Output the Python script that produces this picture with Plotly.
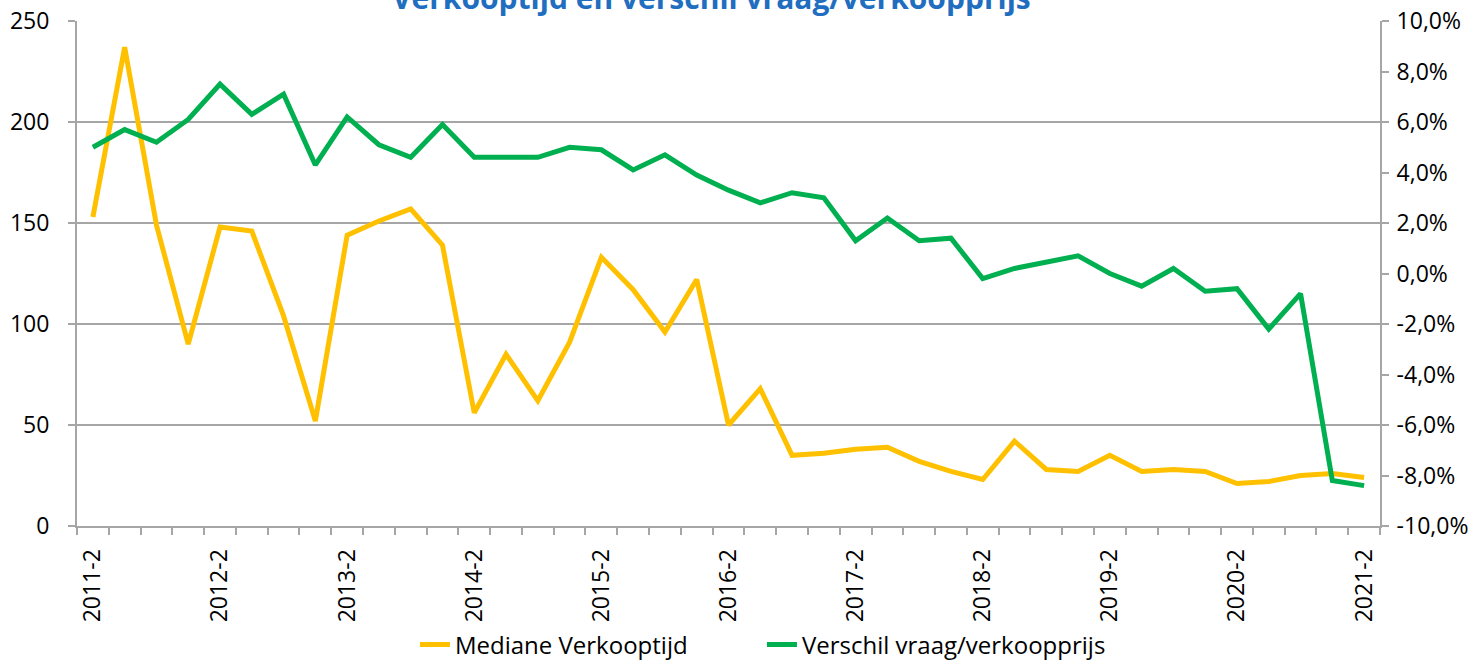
import plotly.graph_objects as go

categories = []
for year in range(2011, 2022):
    for q in range(1, 5):
        if (year == 2011 and q < 2) or (year == 2021 and q > 2):
            continue
        categories.append(f"{year}-{q}")

mediane_verkooptijd = [153, 237, 149, 90, 148, 146, 104, 52, 144, 151, 157, 139, 56, 85, 62, 91,
                       133, 117, 96, 122, 50, 68, 35, 36, 38, 39, 32, 27, 23, 42, 28, 27, 35, 27,
                       28, 27, 21, 22, 25, 26, 24]
verschil_vraag_verkoop = [5.0, 5.7, 5.2, 6.1, 7.5, 6.3, 7.1, 4.3, 6.2, 5.1, 4.6, 5.9, 4.6, 4.6, 4.6, 5.0,
                          4.9, 4.1, 4.7, 3.9, 3.3, 2.8, 3.2, 3.0, 1.3, 2.2, 1.3, 1.4, -0.2, 0.2, 0.45,
                          0.7, 0.0, -0.5, 0.2, -0.7, -0.6, -2.2, -0.8, -8.2, -8.4]

title_text = "Verkooptijd en verschil vraag/verkoopprijs"
left_ticks = [0, 50, 100, 150, 200, 250]
right_ticks = [-10, -8, -6, -4, -2, 0, 2, 4, 6, 8, 10]
right_ticktext = [f"{v:.1f}%".replace(".", ",") for v in right_ticks]

idx = list(range(len(categories)))
label_idx = idx[::4]
label_text = [categories[i] for i in label_idx]

FONT = "Open Sans"
GRID = "#A6A6A6"

fig = go.Figure()
fig.add_trace(go.Scatter(x=idx, y=mediane_verkooptijd, mode="lines", name="Mediane Verkooptijd",
                         line=dict(color="#FFC000", width=5), yaxis="y"))
fig.add_trace(go.Scatter(x=idx, y=verschil_vraag_verkoop, mode="lines", name="Verschil vraag/verkoopprijs",
                         line=dict(color="#00B050", width=5), yaxis="y2"))

fig.add_annotation(text=title_text, xref="paper", yref="paper", x=0.487, y=1.0465,
                   xanchor="center", yanchor="middle", showarrow=False,
                   font=dict(family=FONT, size=30, color="#1F6EC0", weight="bold"))

fig.update_layout(
    width=1483, height=662,
    paper_bgcolor="white", plot_bgcolor="white",
    margin=dict(l=77, r=103, t=21, b=136, autoexpand=False),
    font=dict(family=FONT, size=23, color="#000000"),
    showlegend=True,
    legend=dict(orientation="h", x=0.2798, xref="container", xanchor="left",
                y=0.026, yref="container", yanchor="middle",
                font=dict(family=FONT, size=24), entrywidth=302, entrywidthmode="pixels",
                tracegroupgap=0),
    xaxis=dict(range=[-0.5, len(categories) - 0.5], tickmode="array", tickvals=label_idx,
               ticktext=label_text, tickangle=-90, ticks="", showgrid=False,
               showline=True, linecolor=GRID, linewidth=2, zeroline=False,
               ticklabelstandoff=12,
               tickfont=dict(family=FONT, size=23),
               minor=dict(tickmode="linear", tick0=-0.5, dtick=1, ticks="outside",
                          ticklen=7, tickcolor=GRID, tickwidth=2, showgrid=False)),
    yaxis=dict(range=[0, 250], tickmode="array", tickvals=left_ticks, showgrid=True,
               gridcolor=GRID, gridwidth=2, showline=True, linecolor=GRID, linewidth=2,
               ticks="outside", ticklen=7, tickcolor=GRID, tickwidth=2, zeroline=False,
               ticklabelstandoff=14,
               tickfont=dict(family=FONT, size=23)),
    yaxis2=dict(range=[-10, 10], overlaying="y", side="right", tickmode="array",
                tickvals=right_ticks, ticktext=right_ticktext, showgrid=False,
                showline=True, linecolor=GRID, linewidth=2, ticks="outside", ticklen=7,
                tickcolor=GRID, tickwidth=2, zeroline=False, ticklabelstandoff=3,
                tickfont=dict(family=FONT, size=23)),
)

fig.write_html("out.html", config={"displayModeBar": False},
               post_script="document.body.style.margin='0';document.body.style.overflow='hidden';")
